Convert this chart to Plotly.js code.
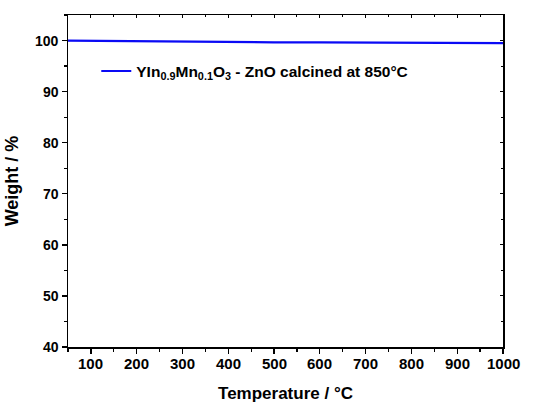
<!DOCTYPE html>
<html><head><meta charset="utf-8">
<script src="https://cdn.plot.ly/plotly-3.0.1.min.js"></script>
<style>html,body{margin:0;padding:0;background:#fff}</style>
</head><body>
<div id="chart" style="width:537px;height:403px"></div>
<script>
const temperature = [50, 100, 150, 200, 250, 300, 400, 500, 600, 700, 800, 900, 950, 1000];
const weight = [100.0, 99.95, 99.88, 99.8, 99.75, 99.7, 99.67, 99.65, 99.64, 99.62, 99.6, 99.58, 99.55, 99.5];
const seriesName = '<b>YIn<sub>0.9</sub>Mn<sub>0.1</sub>O<sub>3</sub> - ZnO calcined at 850°C</b>';
const xTicks = [100, 200, 300, 400, 500, 600, 700, 800, 900, 1000];
const yTicks = [40, 50, 60, 70, 80, 90, 100];

const fam = 'Liberation Sans, Arial, sans-serif';
const trace = {x: temperature, y: weight, type: 'scatter', mode: 'lines', name: seriesName,
  line: {color: '#0a0af5', width: 2.2}};
const ghost = {x: [50], y: [40], xaxis: 'x2', yaxis: 'y2', mode: 'markers', marker: {opacity: 0}, showlegend: false, hoverinfo: 'skip'};

// tick labels placed through the axes' own scales
const xLabels = xTicks.map(v => ({x: v, xref: 'x', y: 0, yref: 'paper', yanchor: 'top', yshift: -6,
  text: '<b>' + v + '</b>', showarrow: false, font: {family: fam, size: 15, color: '#000'}}));
const yLabels = yTicks.map(v => ({x: 0, xref: 'paper', xanchor: 'right', xshift: -7, y: v, yref: 'y', yanchor: 'middle',
  text: '<b>' + v + '</b>', showarrow: false, font: {family: fam, size: 14, color: '#000'}}));

const layout = {
  width: 537, height: 403,
  margin: {l: 68, r: 34, t: 15, b: 56},
  paper_bgcolor: '#fff', plot_bgcolor: '#fff',
  font: {family: fam, color: '#000', size: 15},
  showlegend: true,
  legend: {x: 0.065, y: 0.83, xanchor: 'left', yanchor: 'middle', bgcolor: 'rgba(0,0,0,0)',
    font: {family: fam, size: 15.5, color: '#000'}, itemwidth: 30},
  annotations: xLabels.concat(yLabels),
  xaxis: {range: [50, 1000], tickvals: xTicks, showticklabels: false,
    ticks: 'outside', ticklen: 5, tickwidth: 1.3, tickcolor: '#000',
    showline: true, linecolor: '#000', linewidth: 1.5, showgrid: false, zeroline: false,
    minor: {dtick: 50, tick0: 50, ticks: 'outside', ticklen: 3, tickcolor: '#000', showgrid: false},
    title: {text: '<b>Temperature / °C</b>', font: {family: fam, size: 17, color: '#000'}, standoff: 34}},
  yaxis: {range: [40, 105], tickvals: yTicks, showticklabels: false,
    ticks: 'outside', ticklen: 5, tickwidth: 1.3, tickcolor: '#000',
    showline: true, linecolor: '#000', linewidth: 1.5, showgrid: false, zeroline: false,
    minor: {dtick: 5, tick0: 40, ticks: 'outside', ticklen: 3, tickcolor: '#000', showgrid: false},
    title: {text: '<b>Weight / %</b>', font: {family: fam, size: 18, color: '#000'}, standoff: 38}},
  xaxis2: {overlaying: 'x', side: 'top', range: [50, 1000], tickvals: xTicks, showticklabels: false,
    ticks: 'inside', ticklen: 3, tickcolor: '#000', showline: true, linecolor: '#000', linewidth: 1.5,
    showgrid: false, zeroline: false, anchor: 'y2',
    minor: {dtick: 50, tick0: 50, ticks: 'inside', ticklen: 2, tickcolor: '#000', showgrid: false}},
  yaxis2: {overlaying: 'y', side: 'right', range: [40, 105], tickvals: yTicks, showticklabels: false,
    ticks: 'inside', ticklen: 3, tickcolor: '#000', showline: true, linecolor: '#000', linewidth: 1.5,
    showgrid: false, zeroline: false, anchor: 'x2',
    minor: {dtick: 5, tick0: 40, ticks: 'inside', ticklen: 2, tickcolor: '#000', showgrid: false}}
};
Plotly.newPlot('chart', [trace, ghost], layout, {staticPlot: true, displayModeBar: false});
</script>
</body></html>
